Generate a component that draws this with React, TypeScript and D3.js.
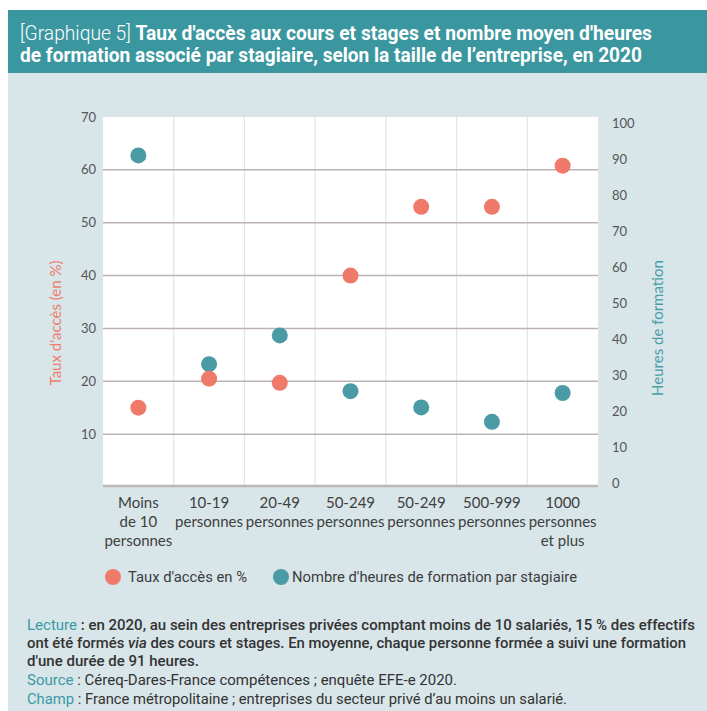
import React from "react";
import * as d3 from "d3";

const categories: string[][] = [
  ["Moins", "de 10", "personnes"],
  ["10-19", "personnes"],
  ["20-49", "personnes"],
  ["50-249", "personnes"],
  ["50-249", "personnes"],
  ["500-999", "personnes"],
  ["1000", "personnes", "et plus"],
];
const tauxAcces: number[] = [15, 20.5, 19.7, 40, 53, 53, 60.8];
const heuresFormation: number[] = [91, 33, 41, 25.5, 21, 17, 25];
const leftTicks: number[] = [10, 20, 30, 40, 50, 60, 70];
const rightTicks: number[] = [0, 10, 20, 30, 40, 50, 60, 70, 80, 90, 100];

const RED = "#f07a69";
const TEAL = "#4a9ba5";
const HEADER = "#3a969f";
const BG = "#d8e5e9";
const COND = "Roboto, 'Liberation Sans', sans-serif";
const CATF = "Lato, 'Open Sans', sans-serif";
const TICKF = "Lato, 'Open Sans', sans-serif";

export default function App() {
  const W = 707, H = 711;
  const plot = { l: 103, r: 598, t: 117, b: 487 };
  const x = d3.scaleBand<number>().domain(d3.range(categories.length)).range([plot.l, plot.r]);
  const yL = d3.scaleLinear().domain([0, 70]).range([487, 117]);
  const yR = d3.scaleLinear().domain([0, 100]).range([483, 123]);
  const bw = x.bandwidth();

  return (
    <svg width={W} height={H} style={{ position: "absolute", left: 0, top: 0 }}>
      <rect x={0} y={0} width={W} height={H} fill="#ffffff" />
      <rect x={8} y={73} width={W - 8} height={H - 73} fill={BG} />
      <rect x={8} y={10} width={W - 8} height={63} fill={HEADER} />
      <text x={20} y={40} fill="#fff" fontFamily={COND} fontSize={19.5} textLength={632} lengthAdjust="spacingAndGlyphs">
        <tspan fontWeight={300}>[Graphique 5] </tspan>
        <tspan fontWeight={700}>Taux d'accès aux cours et stages et nombre moyen d'heures</tspan>
      </text>
      <text x={20} y={62} fill="#fff" fontFamily={COND} fontSize={19.5} fontWeight={700} textLength={622} lengthAdjust="spacingAndGlyphs">
        de formation associé par stagiaire, selon la taille de l’entreprise, en 2020
      </text>

      <rect x={plot.l} y={plot.t} width={plot.r - plot.l} height={plot.b - plot.t} fill="#fff" />
      {d3.range(1, categories.length).map((i) => (
        <line key={"v" + i} x1={x(i)!} x2={x(i)!} y1={plot.t} y2={plot.b} stroke="#e4e4e4" strokeWidth={1.2} />
      ))}
      {leftTicks.filter((t) => t < 70).map((t) => (
        <line key={"h" + t} x1={plot.l} x2={plot.r} y1={yL(t)} y2={yL(t)} stroke="#bcb2b6" strokeWidth={1.5} />
      ))}
      <line x1={plot.l} x2={plot.r} y1={plot.b - 1} y2={plot.b - 1} stroke="#bcb8ba" strokeWidth={2.5} />

      {leftTicks.map((t) => (
        <text key={"lt" + t} x={96} y={yL(t) + 4.5} textAnchor="end" fontFamily={TICKF} fontSize={13} fill="#555">{t}</text>
      ))}
      {rightTicks.map((t) => (
        <text key={"rt" + t} x={612} y={yR(t) + 4.5} textAnchor="start" fontFamily={TICKF} fontSize={13} fill="#555">{t}</text>
      ))}
      <text transform={`translate(61,323) rotate(-90)`} textAnchor="middle" fontFamily={TICKF} fontSize={15} fill="#ee7e6f">Taux d'accès (en %)</text>
      <text transform={`translate(663,328) rotate(-90)`} textAnchor="middle" fontFamily={TICKF} fontSize={15} fill="#4a9ea8">Heures de formation</text>

      {categories.map((lines, i) => (
        <text key={"c" + i} x={x(i)! + bw / 2} textAnchor="middle" fontFamily={CATF} fontSize={15} fill="#404040">
          {lines.map((ln, j) => (
            <tspan key={j} x={x(i)! + bw / 2} y={508 + j * 19}>{ln}</tspan>
          ))}
        </text>
      ))}

      {heuresFormation.map((v, i) => (
        <circle key={"hf" + i} cx={x(i)! + bw / 2} cy={yR(v)} r={8} fill={TEAL} />
      ))}
      {tauxAcces.map((v, i) => (
        <circle key={"ta" + i} cx={x(i)! + bw / 2} cy={yL(v)} r={8} fill={RED} />
      ))}

      <circle cx={113} cy={577} r={8} fill={RED} />
      <text x={128} y={582} fontFamily={COND} fontSize={15} fill="#3c3c3c" textLength={119} lengthAdjust="spacingAndGlyphs">Taux d'accès en %</text>
      <circle cx={281} cy={577} r={8} fill={TEAL} />
      <text x={292} y={582} fontFamily={COND} fontSize={15} fill="#3c3c3c" textLength={285} lengthAdjust="spacingAndGlyphs">Nombre d'heures de formation par stagiaire</text>

      <text x={27} y={630} fontFamily={COND} fontSize={14.5} fill="#333" textLength={668} lengthAdjust="spacingAndGlyphs">
        <tspan fill="#3a9aa5">Lecture</tspan>
        <tspan fontWeight={500}> : en 2020, au sein des entreprises privées comptant moins de 10 salariés, 15 % des effectifs</tspan>
      </text>
      <text x={27} y={648} fontFamily={COND} fontSize={14.5} fill="#333" fontWeight={500} textLength={659} lengthAdjust="spacingAndGlyphs">
        <tspan>ont été formés </tspan>
        <tspan fontStyle="italic">via</tspan>
        <tspan> des cours et stages. En moyenne, chaque personne formée a suivi une formation</tspan>
      </text>
      <text x={27} y={666} fontFamily={COND} fontSize={14.5} fill="#333" fontWeight={500} textLength={172} lengthAdjust="spacingAndGlyphs">d'une durée de 91 heures.</text>
      <text x={27} y={685} fontFamily={COND} fontSize={14.5} fill="#333" textLength={430} lengthAdjust="spacingAndGlyphs">
        <tspan fill="#3a9aa5">Source</tspan>
        <tspan> : Céreq-Dares-France compétences ; enquête EFE-e 2020.</tspan>
      </text>
      <text x={27} y={704} fontFamily={COND} fontSize={14.5} fill="#333" textLength={540} lengthAdjust="spacingAndGlyphs">
        <tspan fill="#3a9aa5">Champ</tspan>
        <tspan> : France métropolitaine ; entreprises du secteur privé d’au moins un salarié.</tspan>
      </text>
    </svg>
  );
}
